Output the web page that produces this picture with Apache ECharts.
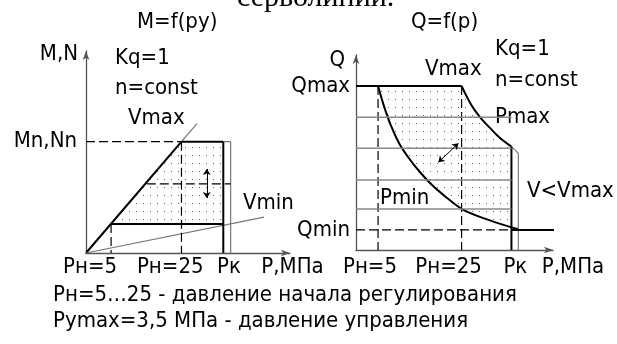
<!DOCTYPE html>
<html>
<head>
<meta charset="utf-8">
<script src="https://cdn.jsdelivr.net/npm/echarts@6/dist/echarts.min.js"></script>
<style>
  html, body { margin: 0; background: #fff; }
  #chart { width: 617px; height: 344px; }
</style>
</head>
<body>
<div id="chart"></div>
<script>
// ---- левый график M=f(py), условные единицы 0..100 по обеим осям
var vmaxLine = [[0, 0], [46.8, 55.1]];
var vmaxExt = [[46.8, 55.1], [54.4, 64]];
var vminLine = [[0, 0], [87.3, 17.8]];
var mnTop = [[46.8, 55.1], [67.3, 55.1]];
var mnTopThin = [[67.3, 55.1], [70.9, 55.1]];
var pkLeft = [[67.3, 55.1], [67.3, 0]];
var pkLeftThin = [[70.9, 55.1], [70.9, 0]];
var minLeft = [[12.3, 14.4], [67.3, 14.4]];
var dashLeft = [
    [[0, 55.1], [46.8, 55.1]],
    [[46.8, 55.1], [46.8, 0]],
    [[29.8, 34.2], [70.9, 34.2]],
    [[12.3, 14.4], [12.3, 0]]
];
var zoneLeft = [[12.3, 14.4], [46.8, 55.1], [67.3, 55.1], [67.3, 14.4]];
var arrowLeft = [[59.2, 41.6], [59.2, 27.2]];
var leftTickPos = [2.0, 41.3, 70.1];
var leftTickText = ['Pн=5', 'Pн=25', 'Pк'];
var leftYPos = [55.1];
var leftYText = ['Mn,Nn'];

// ---- правый график Q=f(p)
var qmaxLine = [[0, 84.1], [53.6, 84.1]];
var pminCurve = [[11.2, 84.1], [14.2, 73.8], [17.8, 63.6], [21.8, 54.9], [26.4, 47.7],
    [32.0, 40.5], [38.6, 33.3], [46.2, 26.7], [53.8, 21.0], [65.0, 16.2],
    [78.9, 11.6], [82.2, 10.8]];
var pmaxCurve = [[53.6, 84.1], [55.8, 79.5], [58.9, 73.8], [62.9, 68.2], [68.0, 62.6],
    [73.1, 57.4], [78.9, 53.0]];
var pmaxThin = [[78.9, 53.0], [82.4, 49.7]];
var pkRight = [[78.9, 53.0], [78.9, 0]];
var pkRightThin = [[82.4, 49.7], [82.4, 0]];
var gridLevels = [68.1, 52.2, 35.9, 21.0];
var qminDash = [[0, 10.3], [78.9, 10.3]];
var qminLine = [[78.9, 10.3], [102, 10.3]];
var dashRight = [
    [[11.2, 84.1], [11.2, 0]],
    [[53.6, 84.1], [53.6, 0]]
];
var arrowRight = [[41.8, 45], [52, 54.7]];
var rightTickPos = [7.1, 47, 80.9];
var rightTickText = ['Pн=5', 'Pн=25', 'Pк'];
var rightYPos = [84.1, 10.3];
var rightYText = ['Qmax', 'Qmin'];

var FONT = '"DejaVu Sans Condensed", "DejaVu Sans"';
var FS = 22;

// точечная штриховка
var dot = document.createElement('canvas');
dot.width = 7;
dot.height = 8;
var dctx = dot.getContext('2d');
dctx.fillStyle = '#666';
dctx.fillRect(3, 3, 1, 1);

function seg(idx, data, style, extra) {
    var s = {
        type: 'line',
        xAxisIndex: idx,
        yAxisIndex: idx,
        data: data,
        symbol: 'none',
        silent: true,
        animation: false,
        lineStyle: style,
        z: 3
    };
    for (var k in extra) s[k] = extra[k];
    return s;
}

var thick = { color: '#000', width: 2 };
var thin = { color: '#777', width: 1.2 };
var dashed = { color: '#000', width: 1.2, type: [9, 4] };
var curve = { smooth: 0.35 };

function zone(idx, pts) {
    return {
        type: 'custom',
        xAxisIndex: idx,
        yAxisIndex: idx,
        silent: true,
        animation: false,
        z: 1,
        data: [[0, 0]],
        renderItem: function (params, api) {
            return {
                type: 'polygon',
                shape: { points: pts.map(function (p) { return api.coord(p); }) },
                style: { fill: { image: dot, repeat: 'repeat' }, stroke: null }
            };
        }
    };
}

function arrow(idx, coords) {
    return {
        type: 'lines',
        coordinateSystem: 'cartesian2d',
        xAxisIndex: idx,
        yAxisIndex: idx,
        silent: true,
        animation: false,
        symbol: ['arrow', 'arrow'],
        symbolSize: 6,
        lineStyle: { color: '#000', width: 1, opacity: 1 },
        data: [{ coords: coords }],
        z: 4
    };
}

function xAxis(idx, pos, text, gap, pad) {
    return {
        type: 'value', gridIndex: idx, min: 0, max: 100,
        axisLine: { lineStyle: { color: '#555', width: 1.3 }, symbol: ['none', 'arrow'], symbolSize: [5, 9] },
        axisTick: { show: false },
        splitLine: { show: false },
        axisLabel: {
            customValues: pos, margin: pad, color: '#000', fontFamily: FONT, fontSize: FS,
            formatter: function (v) { return text[pos.indexOf(v)]; }
        },
        name: 'P,МПа', nameLocation: 'end', nameGap: gap,
        nameTextStyle: { color: '#000', fontFamily: FONT, fontSize: FS, align: 'center', verticalAlign: 'top', padding: [pad, 0, 0, 0] }
    };
}

function yAxis(idx, pos, text, name, margin, nameGap, namePad) {
    return {
        type: 'value', gridIndex: idx, min: 0, max: 100,
        axisLine: { show: true, lineStyle: { color: '#555', width: 1.3 }, symbol: ['none', 'arrow'], symbolSize: [5, 9] },
        axisTick: { show: false },
        splitLine: { show: false },
        axisLabel: {
            customValues: pos, margin: margin, color: '#000', fontFamily: FONT, fontSize: FS,
            formatter: function (v) { return text[pos.indexOf(v)]; }
        },
        name: name, nameLocation: 'end', nameGap: nameGap,
        nameTextStyle: { color: '#000', fontFamily: FONT, fontSize: FS, align: 'right', verticalAlign: 'middle', padding: [0, namePad, 0, 0] }
    };
}

var series = [
    zone(0, zoneLeft),
    seg(0, vmaxLine, thick),
    seg(0, vmaxExt, thin),
    seg(0, vminLine, thin),
    seg(0, mnTop, thick),
    seg(0, mnTopThin, thin),
    seg(0, pkLeft, thick),
    seg(0, pkLeftThin, thin),
    seg(0, minLeft, thick),
    arrow(0, arrowLeft),

    zone(1, pminCurve.slice(0, 11).concat(pmaxCurve.slice().reverse())),
    seg(1, qmaxLine, thick),
    seg(1, pminCurve, thick, curve),
    seg(1, pmaxCurve, thick, curve),
    seg(1, pmaxThin, thin),
    seg(1, pkRight, thick),
    seg(1, pkRightThin, thin),
    seg(1, qminDash, dashed),
    seg(1, qminLine, thick, { clip: false }),
    arrow(1, arrowRight)
];
dashLeft.forEach(function (d) { series.push(seg(0, d, dashed)); });
dashRight.forEach(function (d) { series.push(seg(1, d, dashed)); });
gridLevels.forEach(function (y) {
    series.push(seg(1, [[0, y], [78.9, y]], { color: '#888', width: 1.4 }));
});

function label(text, x, y, extra) {
    var st = { text: text, x: x, y: y, fill: '#000', font: FS + 'px ' + FONT, verticalAlign: 'middle' };
    for (var k in extra) st[k] = extra[k];
    return { type: 'text', style: st, silent: true };
}

var chart = echarts.init(document.getElementById('chart'));
chart.setOption({
    backgroundColor: '#fff',
    animation: false,
    grid: [
        { left: 86, top: 51, width: 204, height: 202 },
        { left: 356, top: 55, width: 197, height: 195 }
    ],
    xAxis: [
        xAxis(0, leftTickPos, leftTickText, 2.5, 3),
        xAxis(1, rightTickPos, rightTickText, 20, 6)
    ],
    yAxis: [
        yAxis(0, leftYPos, leftYText, 'M,N', 9, -3, 8),
        yAxis(1, rightYPos, rightYText, 'Q', 6, -5, 11)
    ],
    graphic: [
        label('серволинии.', 237, 13, { font: '30px "Liberation Serif"', verticalAlign: 'bottom' }),
        label('M=f(py)', 137, 22),
        label('Kq=1', 115, 58),
        label('n=const', 115, 88),
        label('Vmax', 128, 118),
        label('Vmin', 243, 203),
        label('Q=f(p)', 411, 22),
        label('Kq=1', 495, 49),
        label('Vmax', 425, 69),
        label('n=const', 495, 80),
        label('Pmax', 495, 117),
        label('V<Vmax', 527, 191),
        label('Pmin', 380, 198),
        label('Pн=5…25 - давление начала регулирования', 53, 295),
        label('Pymax=3,5 МПа - давление управления', 53, 321)
    ],
    series: series
});
</script>
</body>
</html>
